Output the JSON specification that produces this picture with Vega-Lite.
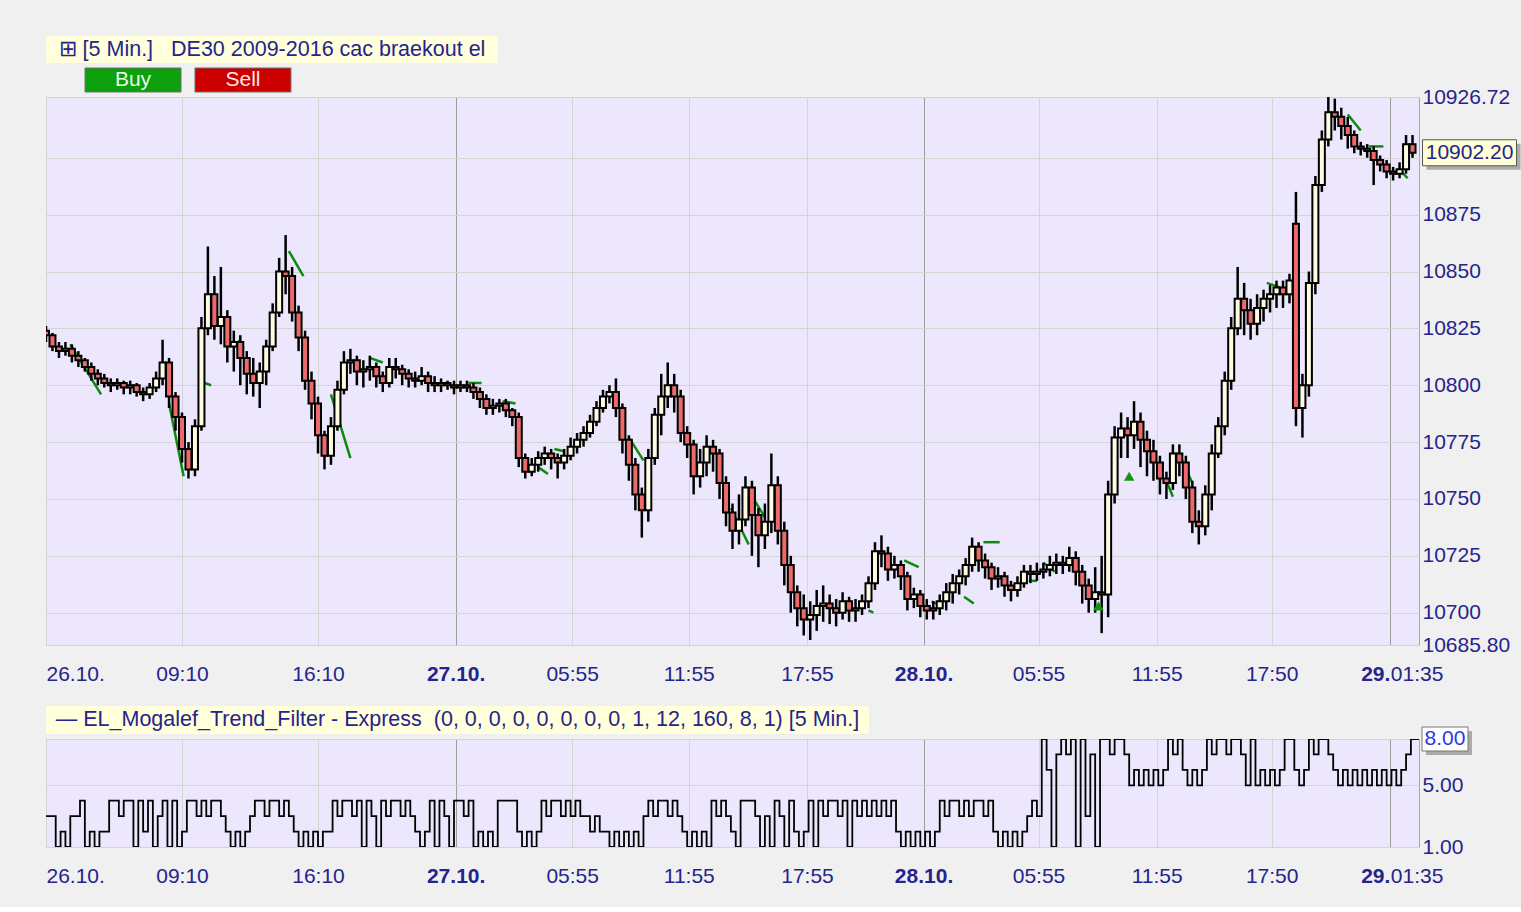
{
  "$schema": "https://vega.github.io/schema/vega-lite/v6.json",
  "background": "#f0f0f0",
  "padding": {"left": 45, "top": 36, "right": 0, "bottom": 20},
  "config": {"font": "Liberation Sans", "view": {"stroke": null}},
  "spacing": 21,
  "datasets": {
    "header1": [{"label": "⊞ [5 Min.]\u00a0\u00a0\u00a0DE30 2009-2016 cac braekout el"}],
    "header2": [{"label": "— EL_Mogalef_Trend_Filter - Express\u00a0\u00a0(0, 0, 0, 0, 0, 0, 0, 0, 1, 12, 160, 8, 1) [5 Min.]"}],
    "buttons": [{"b": "Buy"}, {"b": "Sell"}],
    "last": [{"t": 844, "p": 10902.2, "label": "10902.20"}],
    "lastInd": [{"t": 848, "v": 8, "label": "8.00"}],
    "signals": [{"t": 669, "p": 10760}, {"t": 650, "p": 10703}],
    "trail": [
      {"t":15,"t2":34,"p":10818,"p2":10796},{"t":76,"t2":85,"p":10792,"p2":10760},{"t":98,"t2":102,"p":10801,"p2":10800},
      {"t":150,"t2":159,"p":10859,"p2":10848},{"t":176,"t2":188,"p":10796,"p2":10768},{"t":119,"t2":122,"p":10820,"p2":10816},
      {"t":200,"t2":208,"p":10812,"p2":10810},{"t":261,"t2":269,"p":10801,"p2":10801},{"t":282,"t2":290,"p":10793,"p2":10792},
      {"t":304,"t2":310,"p":10764,"p2":10761},{"t":314,"t2":320,"p":10772,"p2":10771},{"t":360,"t2":369,"p":10777,"p2":10767},
      {"t":413,"t2":418,"p":10771,"p2":10766},{"t":423,"t2":434,"p":10746,"p2":10730},{"t":437,"t2":444,"p":10750,"p2":10742},
      {"t":508,"t2":511,"p":10701,"p2":10700},{"t":530,"t2":539,"p":10723,"p2":10720},{"t":547,"t2":553,"p":10705,"p2":10703},
      {"t":567,"t2":573,"p":10707,"p2":10704},{"t":579,"t2":589,"p":10731,"p2":10731},{"t":607,"t2":612,"p":10714,"p2":10714},
      {"t":616,"t2":623,"p":10722,"p2":10718},{"t":692,"t2":696,"p":10758,"p2":10751},{"t":701,"t2":708,"p":10768,"p2":10757},
      {"t":754,"t2":762,"p":10845,"p2":10843},{"t":804,"t2":812,"p":10919,"p2":10912},{"t":817,"t2":826,"p":10905,"p2":10905},
      {"t":837,"t2":841,"p":10894,"p2":10891}
    ],
    "candles": [
      {"t":0,"o":10824,"h":10826,"l":10819,"c":10822},{"t":4,"o":10822,"h":10823,"l":10815,"c":10817},{"t":8,"o":10817,"h":10819,"l":10812,"c":10815},
      {"t":12,"o":10815,"h":10819,"l":10813,"c":10816},{"t":16,"o":10816,"h":10818,"l":10810,"c":10813},{"t":20,"o":10813,"h":10815,"l":10808,"c":10811},
      {"t":24,"o":10811,"h":10812,"l":10806,"c":10808},{"t":28,"o":10808,"h":10810,"l":10802,"c":10805},{"t":32,"o":10805,"h":10807,"l":10800,"c":10803},
      {"t":36,"o":10803,"h":10805,"l":10799,"c":10801},{"t":40,"o":10801,"h":10803,"l":10797,"c":10800},{"t":44,"o":10800,"h":10803,"l":10798,"c":10801},
      {"t":48,"o":10801,"h":10802,"l":10796,"c":10799},{"t":52,"o":10799,"h":10802,"l":10796,"c":10800},{"t":56,"o":10800,"h":10801,"l":10795,"c":10797},
      {"t":60,"o":10797,"h":10799,"l":10793,"c":10796},{"t":64,"o":10796,"h":10801,"l":10794,"c":10799},{"t":68,"o":10799,"h":10806,"l":10797,"c":10803},
      {"t":72,"o":10803,"h":10820,"l":10800,"c":10810},{"t":76,"o":10810,"h":10812,"l":10790,"c":10795},{"t":80,"o":10795,"h":10797,"l":10780,"c":10786},
      {"t":84,"o":10786,"h":10788,"l":10766,"c":10772},{"t":88,"o":10772,"h":10775,"l":10759,"c":10763},{"t":92,"o":10763,"h":10785,"l":10760,"c":10782},
      {"t":96,"o":10782,"h":10830,"l":10780,"c":10825},{"t":100,"o":10825,"h":10861,"l":10822,"c":10840},{"t":104,"o":10840,"h":10848,"l":10820,"c":10826},
      {"t":108,"o":10826,"h":10852,"l":10818,"c":10830},{"t":112,"o":10830,"h":10833,"l":10810,"c":10817},{"t":116,"o":10817,"h":10824,"l":10806,"c":10819},
      {"t":120,"o":10819,"h":10822,"l":10800,"c":10812},{"t":124,"o":10812,"h":10815,"l":10796,"c":10805},{"t":128,"o":10805,"h":10812,"l":10795,"c":10801},
      {"t":132,"o":10801,"h":10810,"l":10790,"c":10806},{"t":136,"o":10806,"h":10820,"l":10800,"c":10817},{"t":140,"o":10817,"h":10836,"l":10815,"c":10832},
      {"t":144,"o":10832,"h":10856,"l":10830,"c":10850},{"t":148,"o":10850,"h":10866,"l":10840,"c":10848},{"t":152,"o":10848,"h":10852,"l":10828,"c":10832},
      {"t":156,"o":10832,"h":10835,"l":10815,"c":10821},{"t":160,"o":10821,"h":10824,"l":10798,"c":10802},{"t":164,"o":10802,"h":10806,"l":10785,"c":10792},
      {"t":168,"o":10792,"h":10795,"l":10770,"c":10778},{"t":172,"o":10778,"h":10780,"l":10763,"c":10769},{"t":176,"o":10769,"h":10786,"l":10765,"c":10782},
      {"t":180,"o":10782,"h":10802,"l":10780,"c":10798},{"t":184,"o":10798,"h":10815,"l":10796,"c":10810},{"t":188,"o":10810,"h":10816,"l":10805,"c":10811},
      {"t":192,"o":10811,"h":10813,"l":10800,"c":10806},{"t":196,"o":10806,"h":10811,"l":10799,"c":10807},{"t":200,"o":10807,"h":10813,"l":10802,"c":10808},
      {"t":204,"o":10808,"h":10810,"l":10799,"c":10804},{"t":208,"o":10804,"h":10806,"l":10797,"c":10801},{"t":212,"o":10801,"h":10812,"l":10799,"c":10808},
      {"t":216,"o":10808,"h":10812,"l":10803,"c":10807},{"t":220,"o":10807,"h":10809,"l":10800,"c":10805},{"t":224,"o":10805,"h":10807,"l":10799,"c":10803},
      {"t":228,"o":10803,"h":10806,"l":10799,"c":10802},{"t":232,"o":10802,"h":10808,"l":10800,"c":10804},{"t":236,"o":10804,"h":10806,"l":10797,"c":10801},
      {"t":240,"o":10801,"h":10804,"l":10797,"c":10800},{"t":244,"o":10800,"h":10803,"l":10797,"c":10801},{"t":248,"o":10801,"h":10802,"l":10798,"c":10800},
      {"t":252,"o":10800,"h":10802,"l":10796,"c":10799},{"t":256,"o":10799,"h":10802,"l":10797,"c":10800},{"t":260,"o":10800,"h":10802,"l":10797,"c":10799},
      {"t":264,"o":10799,"h":10801,"l":10794,"c":10797},{"t":268,"o":10797,"h":10799,"l":10790,"c":10794},{"t":272,"o":10794,"h":10796,"l":10787,"c":10790},
      {"t":276,"o":10790,"h":10794,"l":10787,"c":10791},{"t":280,"o":10791,"h":10794,"l":10788,"c":10792},{"t":284,"o":10792,"h":10794,"l":10786,"c":10789},
      {"t":288,"o":10789,"h":10790,"l":10782,"c":10786},{"t":292,"o":10786,"h":10788,"l":10764,"c":10768},{"t":296,"o":10768,"h":10770,"l":10759,"c":10762},
      {"t":300,"o":10762,"h":10768,"l":10760,"c":10765},{"t":304,"o":10765,"h":10771,"l":10762,"c":10768},{"t":308,"o":10768,"h":10773,"l":10765,"c":10770},
      {"t":312,"o":10770,"h":10772,"l":10763,"c":10768},{"t":316,"o":10768,"h":10770,"l":10759,"c":10766},{"t":320,"o":10766,"h":10772,"l":10763,"c":10769},
      {"t":324,"o":10769,"h":10777,"l":10767,"c":10773},{"t":328,"o":10773,"h":10779,"l":10770,"c":10776},{"t":332,"o":10776,"h":10782,"l":10773,"c":10779},
      {"t":336,"o":10779,"h":10787,"l":10777,"c":10784},{"t":340,"o":10784,"h":10793,"l":10782,"c":10790},{"t":344,"o":10790,"h":10798,"l":10788,"c":10795},
      {"t":348,"o":10795,"h":10800,"l":10792,"c":10797},{"t":352,"o":10797,"h":10803,"l":10786,"c":10790},{"t":356,"o":10790,"h":10792,"l":10770,"c":10776},
      {"t":360,"o":10776,"h":10778,"l":10758,"c":10765},{"t":364,"o":10765,"h":10768,"l":10745,"c":10752},{"t":368,"o":10752,"h":10755,"l":10733,"c":10745},
      {"t":372,"o":10745,"h":10772,"l":10740,"c":10768},{"t":376,"o":10768,"h":10790,"l":10765,"c":10787},{"t":380,"o":10787,"h":10805,"l":10778,"c":10795},
      {"t":384,"o":10795,"h":10810,"l":10790,"c":10800},{"t":388,"o":10800,"h":10805,"l":10788,"c":10795},{"t":392,"o":10795,"h":10798,"l":10775,"c":10779},
      {"t":396,"o":10779,"h":10782,"l":10768,"c":10774},{"t":400,"o":10774,"h":10776,"l":10752,"c":10760},{"t":404,"o":10760,"h":10772,"l":10755,"c":10766},
      {"t":408,"o":10766,"h":10778,"l":10760,"c":10773},{"t":412,"o":10773,"h":10776,"l":10762,"c":10770},{"t":416,"o":10770,"h":10772,"l":10750,"c":10757},
      {"t":420,"o":10757,"h":10760,"l":10738,"c":10744},{"t":424,"o":10744,"h":10748,"l":10728,"c":10736},{"t":428,"o":10736,"h":10752,"l":10730,"c":10741},
      {"t":432,"o":10741,"h":10760,"l":10738,"c":10755},{"t":436,"o":10755,"h":10758,"l":10725,"c":10743},{"t":440,"o":10743,"h":10746,"l":10720,"c":10734},
      {"t":444,"o":10734,"h":10748,"l":10728,"c":10740},{"t":448,"o":10740,"h":10770,"l":10735,"c":10756},{"t":452,"o":10756,"h":10760,"l":10730,"c":10736},
      {"t":456,"o":10736,"h":10740,"l":10712,"c":10721},{"t":460,"o":10721,"h":10725,"l":10700,"c":10709},{"t":464,"o":10709,"h":10712,"l":10694,"c":10702},
      {"t":468,"o":10702,"h":10708,"l":10690,"c":10697},{"t":472,"o":10697,"h":10705,"l":10688,"c":10699},{"t":476,"o":10699,"h":10710,"l":10692,"c":10703},
      {"t":480,"o":10703,"h":10712,"l":10696,"c":10704},{"t":484,"o":10704,"h":10708,"l":10695,"c":10702},{"t":488,"o":10702,"h":10706,"l":10694,"c":10700},
      {"t":492,"o":10700,"h":10709,"l":10697,"c":10705},{"t":496,"o":10705,"h":10707,"l":10696,"c":10701},{"t":500,"o":10701,"h":10706,"l":10696,"c":10702},
      {"t":504,"o":10702,"h":10708,"l":10699,"c":10705},{"t":508,"o":10705,"h":10716,"l":10702,"c":10713},{"t":512,"o":10713,"h":10731,"l":10710,"c":10727},
      {"t":516,"o":10727,"h":10734,"l":10720,"c":10726},{"t":520,"o":10726,"h":10729,"l":10714,"c":10719},{"t":524,"o":10719,"h":10725,"l":10715,"c":10721},
      {"t":528,"o":10721,"h":10723,"l":10710,"c":10716},{"t":532,"o":10716,"h":10718,"l":10701,"c":10706},{"t":536,"o":10706,"h":10711,"l":10702,"c":10708},
      {"t":540,"o":10708,"h":10710,"l":10698,"c":10703},{"t":544,"o":10703,"h":10706,"l":10697,"c":10701},{"t":548,"o":10701,"h":10705,"l":10697,"c":10702},
      {"t":552,"o":10702,"h":10708,"l":10699,"c":10705},{"t":556,"o":10705,"h":10713,"l":10701,"c":10709},{"t":560,"o":10709,"h":10717,"l":10704,"c":10713},
      {"t":564,"o":10713,"h":10719,"l":10708,"c":10716},{"t":568,"o":10716,"h":10724,"l":10712,"c":10721},{"t":572,"o":10721,"h":10733,"l":10718,"c":10729},
      {"t":576,"o":10729,"h":10731,"l":10718,"c":10723},{"t":580,"o":10723,"h":10726,"l":10715,"c":10720},{"t":584,"o":10720,"h":10722,"l":10710,"c":10715},
      {"t":588,"o":10715,"h":10720,"l":10711,"c":10716},{"t":592,"o":10716,"h":10718,"l":10707,"c":10712},{"t":596,"o":10712,"h":10714,"l":10705,"c":10710},
      {"t":600,"o":10710,"h":10716,"l":10707,"c":10713},{"t":604,"o":10713,"h":10721,"l":10711,"c":10718},{"t":608,"o":10718,"h":10721,"l":10713,"c":10717},
      {"t":612,"o":10717,"h":10722,"l":10714,"c":10718},{"t":616,"o":10718,"h":10722,"l":10715,"c":10719},{"t":620,"o":10719,"h":10725,"l":10716,"c":10721},
      {"t":624,"o":10721,"h":10726,"l":10717,"c":10722},{"t":628,"o":10722,"h":10725,"l":10717,"c":10721},{"t":632,"o":10721,"h":10729,"l":10718,"c":10724},
      {"t":636,"o":10724,"h":10727,"l":10712,"c":10718},{"t":640,"o":10718,"h":10721,"l":10704,"c":10712},{"t":644,"o":10712,"h":10715,"l":10700,"c":10706},
      {"t":648,"o":10706,"h":10720,"l":10700,"c":10709},{"t":652,"o":10709,"h":10725,"l":10691,"c":10708},{"t":656,"o":10708,"h":10758,"l":10698,"c":10752},
      {"t":660,"o":10752,"h":10782,"l":10748,"c":10777},{"t":664,"o":10777,"h":10788,"l":10768,"c":10781},{"t":668,"o":10781,"h":10786,"l":10768,"c":10778},
      {"t":672,"o":10778,"h":10793,"l":10772,"c":10784},{"t":676,"o":10784,"h":10788,"l":10764,"c":10776},{"t":680,"o":10776,"h":10780,"l":10760,"c":10771},
      {"t":684,"o":10771,"h":10776,"l":10758,"c":10766},{"t":688,"o":10766,"h":10769,"l":10752,"c":10759},{"t":692,"o":10759,"h":10762,"l":10750,"c":10757},
      {"t":696,"o":10757,"h":10774,"l":10754,"c":10770},{"t":700,"o":10770,"h":10774,"l":10760,"c":10766},{"t":704,"o":10766,"h":10769,"l":10750,"c":10755},
      {"t":708,"o":10755,"h":10758,"l":10735,"c":10740},{"t":712,"o":10740,"h":10745,"l":10730,"c":10738},{"t":716,"o":10738,"h":10756,"l":10734,"c":10752},
      {"t":720,"o":10752,"h":10774,"l":10745,"c":10770},{"t":724,"o":10770,"h":10786,"l":10768,"c":10782},{"t":728,"o":10782,"h":10806,"l":10778,"c":10802},
      {"t":732,"o":10802,"h":10830,"l":10798,"c":10825},{"t":736,"o":10825,"h":10852,"l":10822,"c":10838},{"t":740,"o":10838,"h":10845,"l":10822,"c":10833},
      {"t":744,"o":10833,"h":10838,"l":10820,"c":10827},{"t":748,"o":10827,"h":10840,"l":10822,"c":10834},{"t":752,"o":10834,"h":10842,"l":10828,"c":10838},
      {"t":756,"o":10838,"h":10844,"l":10832,"c":10840},{"t":760,"o":10840,"h":10846,"l":10834,"c":10843},{"t":764,"o":10843,"h":10846,"l":10834,"c":10840},
      {"t":768,"o":10840,"h":10849,"l":10836,"c":10846},{"t":772,"o":10871,"h":10885,"l":10782,"c":10790},{"t":776,"o":10790,"h":10805,"l":10777,"c":10800},
      {"t":780,"o":10800,"h":10850,"l":10795,"c":10845},{"t":784,"o":10845,"h":10892,"l":10840,"c":10888},{"t":788,"o":10888,"h":10912,"l":10885,"c":10908},
      {"t":792,"o":10908,"h":10926.7,"l":10905,"c":10920},{"t":796,"o":10920,"h":10926,"l":10912,"c":10918},{"t":800,"o":10918,"h":10922,"l":10908,"c":10914},
      {"t":804,"o":10914,"h":10918,"l":10904,"c":10910},{"t":808,"o":10910,"h":10912,"l":10902,"c":10905},{"t":812,"o":10905,"h":10907,"l":10901,"c":10904},
      {"t":816,"o":10904,"h":10906,"l":10900,"c":10903},{"t":820,"o":10903,"h":10905,"l":10888,"c":10899},{"t":824,"o":10899,"h":10901,"l":10894,"c":10897},
      {"t":828,"o":10897,"h":10899,"l":10891,"c":10894},{"t":832,"o":10894,"h":10896,"l":10890,"c":10893},{"t":836,"o":10893,"h":10898,"l":10891,"c":10895},
      {"t":840,"o":10895,"h":10910,"l":10893,"c":10906},{"t":844,"o":10906,"h":10910,"l":10900,"c":10902.2}
    ],
    "filter": [
      {"t":0,"v":3},{"t":3,"v":3},{"t":6,"v":1},{"t":9,"v":2},{"t":12,"v":1},{"t":15,"v":3},{"t":18,"v":3},{"t":21,"v":4},{"t":24,"v":1},{"t":27,"v":2},
      {"t":30,"v":1},{"t":33,"v":2},{"t":36,"v":2},{"t":39,"v":4},{"t":42,"v":4},{"t":45,"v":3},{"t":48,"v":4},{"t":51,"v":4},{"t":54,"v":1},{"t":57,"v":4},
      {"t":60,"v":2},{"t":63,"v":4},{"t":66,"v":1},{"t":69,"v":3},{"t":72,"v":4},{"t":75,"v":1},{"t":78,"v":4},{"t":81,"v":1},{"t":84,"v":2},{"t":87,"v":4},
      {"t":90,"v":4},{"t":93,"v":3},{"t":96,"v":4},{"t":99,"v":3},{"t":102,"v":4},{"t":105,"v":4},{"t":108,"v":3},{"t":111,"v":2},{"t":114,"v":1},{"t":117,"v":2},
      {"t":120,"v":1},{"t":123,"v":2},{"t":126,"v":3},{"t":129,"v":4},{"t":132,"v":4},{"t":135,"v":3},{"t":138,"v":4},{"t":141,"v":4},{"t":144,"v":3},{"t":147,"v":4},
      {"t":150,"v":3},{"t":153,"v":2},{"t":156,"v":1},{"t":159,"v":2},{"t":162,"v":1},{"t":165,"v":2},{"t":168,"v":1},{"t":171,"v":2},{"t":174,"v":2},{"t":177,"v":4},
      {"t":180,"v":3},{"t":183,"v":4},{"t":186,"v":4},{"t":189,"v":3},{"t":192,"v":4},{"t":195,"v":1},{"t":198,"v":4},{"t":201,"v":3},{"t":204,"v":1},{"t":207,"v":4},
      {"t":210,"v":3},{"t":213,"v":4},{"t":216,"v":4},{"t":219,"v":3},{"t":222,"v":4},{"t":225,"v":3},{"t":228,"v":2},{"t":231,"v":1},{"t":234,"v":2},{"t":237,"v":4},
      {"t":240,"v":1},{"t":243,"v":4},{"t":246,"v":3},{"t":249,"v":1},{"t":252,"v":4},{"t":255,"v":4},{"t":258,"v":3},{"t":261,"v":4},{"t":264,"v":1},{"t":267,"v":2},
      {"t":270,"v":1},{"t":273,"v":2},{"t":276,"v":1},{"t":279,"v":4},{"t":282,"v":4},{"t":285,"v":4},{"t":288,"v":4},{"t":291,"v":2},{"t":294,"v":1},{"t":297,"v":2},
      {"t":300,"v":1},{"t":303,"v":2},{"t":306,"v":4},{"t":309,"v":3},{"t":312,"v":4},{"t":315,"v":4},{"t":318,"v":3},{"t":321,"v":4},{"t":324,"v":3},{"t":327,"v":4},
      {"t":330,"v":3},{"t":333,"v":3},{"t":336,"v":2},{"t":339,"v":3},{"t":342,"v":2},{"t":345,"v":2},{"t":348,"v":1},{"t":351,"v":2},{"t":354,"v":1},{"t":357,"v":2},
      {"t":360,"v":1},{"t":363,"v":2},{"t":366,"v":1},{"t":369,"v":3},{"t":372,"v":4},{"t":375,"v":3},{"t":378,"v":4},{"t":381,"v":4},{"t":384,"v":3},{"t":387,"v":4},
      {"t":390,"v":3},{"t":393,"v":2},{"t":396,"v":1},{"t":399,"v":2},{"t":402,"v":1},{"t":405,"v":2},{"t":408,"v":1},{"t":411,"v":4},{"t":414,"v":3},{"t":417,"v":4},
      {"t":420,"v":3},{"t":423,"v":2},{"t":426,"v":1},{"t":429,"v":4},{"t":432,"v":4},{"t":435,"v":4},{"t":438,"v":3},{"t":441,"v":1},{"t":444,"v":3},{"t":447,"v":1},
      {"t":450,"v":4},{"t":453,"v":3},{"t":456,"v":1},{"t":459,"v":4},{"t":462,"v":2},{"t":465,"v":1},{"t":468,"v":2},{"t":471,"v":4},{"t":474,"v":1},{"t":477,"v":4},
      {"t":480,"v":3},{"t":483,"v":4},{"t":486,"v":4},{"t":489,"v":3},{"t":492,"v":4},{"t":495,"v":1},{"t":498,"v":4},{"t":501,"v":3},{"t":504,"v":4},{"t":507,"v":3},
      {"t":510,"v":4},{"t":513,"v":3},{"t":516,"v":4},{"t":519,"v":3},{"t":522,"v":4},{"t":525,"v":2},{"t":528,"v":1},{"t":531,"v":2},{"t":534,"v":1},{"t":537,"v":2},
      {"t":540,"v":1},{"t":543,"v":2},{"t":546,"v":1},{"t":549,"v":2},{"t":552,"v":4},{"t":555,"v":3},{"t":558,"v":4},{"t":561,"v":4},{"t":564,"v":3},{"t":567,"v":4},
      {"t":570,"v":3},{"t":573,"v":4},{"t":576,"v":4},{"t":579,"v":3},{"t":582,"v":4},{"t":585,"v":2},{"t":588,"v":1},{"t":591,"v":2},{"t":594,"v":1},{"t":597,"v":2},
      {"t":600,"v":1},{"t":603,"v":2},{"t":606,"v":3},{"t":609,"v":4},{"t":612,"v":3},{"t":615,"v":8},{"t":618,"v":6},{"t":621,"v":1},{"t":624,"v":7},{"t":627,"v":8},
      {"t":630,"v":7},{"t":633,"v":8},{"t":636,"v":1},{"t":639,"v":8},{"t":642,"v":3},{"t":645,"v":7},{"t":648,"v":1},{"t":651,"v":8},{"t":654,"v":8},{"t":657,"v":7},
      {"t":660,"v":8},{"t":663,"v":8},{"t":666,"v":7},{"t":669,"v":5},{"t":672,"v":6},{"t":675,"v":5},{"t":678,"v":6},{"t":681,"v":5},{"t":684,"v":6},{"t":687,"v":5},
      {"t":690,"v":6},{"t":693,"v":8},{"t":696,"v":7},{"t":699,"v":8},{"t":702,"v":6},{"t":705,"v":5},{"t":708,"v":6},{"t":711,"v":5},{"t":714,"v":6},{"t":717,"v":8},
      {"t":720,"v":7},{"t":723,"v":8},{"t":726,"v":8},{"t":729,"v":7},{"t":732,"v":8},{"t":735,"v":8},{"t":738,"v":7},{"t":741,"v":5},{"t":744,"v":8},{"t":747,"v":5},
      {"t":750,"v":6},{"t":753,"v":5},{"t":756,"v":6},{"t":759,"v":5},{"t":762,"v":6},{"t":765,"v":8},{"t":768,"v":8},{"t":771,"v":6},{"t":774,"v":5},{"t":777,"v":6},
      {"t":780,"v":8},{"t":783,"v":7},{"t":786,"v":8},{"t":789,"v":8},{"t":792,"v":7},{"t":795,"v":6},{"t":798,"v":5},{"t":801,"v":6},{"t":804,"v":5},{"t":807,"v":6},
      {"t":810,"v":5},{"t":813,"v":6},{"t":816,"v":5},{"t":819,"v":6},{"t":822,"v":5},{"t":825,"v":6},{"t":828,"v":5},{"t":831,"v":6},{"t":834,"v":5},{"t":837,"v":6},
      {"t":840,"v":7},{"t":843,"v":8},{"t":846,"v":8},{"t":848,"v":8}
    ]
  },
  "vconcat": [
    {
      "bounds": "flush",
      "spacing": 5,
      "vconcat": [
        {
          "width": 452, "height": 27,
          "view": {"fill": "#ffffdc", "stroke": null},
          "data": {"name": "header1"},
          "mark": {"type": "text", "fontSize": 21.5, "color": "#24248c", "font": "Liberation Sans"},
          "encoding": {"text": {"field": "label"}}
        },
        {
          "width": 284, "height": 24,
          "view": {"stroke": null},
          "data": {"name": "buttons"},
          "encoding": {
            "x": {"field": "b", "type": "nominal", "scale": {"paddingInner": 0.127, "paddingOuter": 0.355}, "axis": null},
            "y": {"datum": 1, "type": "quantitative", "scale": {"domain": [0, 1], "nice": false}, "axis": null}
          },
          "layer": [
            {
              "mark": {"type": "bar", "stroke": "#707070", "strokeWidth": 1},
              "encoding": {"fill": {"condition": {"test": "datum.b == 'Buy'", "value": "#0ca00c"}, "value": "#cc0000"}}
            },
            {
              "mark": {"type": "text", "fontSize": 21, "baseline": "middle", "font": "Liberation Sans"},
              "encoding": {
                "y": {"datum": 0.5, "type": "quantitative"},
                "text": {"field": "b"},
                "fill": {"condition": {"test": "datum.b == 'Buy'", "value": "#e6ffe6"}, "value": "#ffe6e6"}
              }
            }
          ]
        },
        {
          "width": 1373, "height": 548,
          "view": {"fill": "#ece7fc", "stroke": "#a8a8a8"},
          "encoding": {
            "x": {
              "field": "t", "type": "quantitative",
              "scale": {"domain": [0, 848], "nice": false, "zero": false, "padding": 0},
              "axis": {
                "orient": "bottom", "title": null,
                "values": [0, 84, 168, 253, 325, 397, 470, 542, 613, 686, 757, 830, 830.3],
                "labelExpr": "datum.value==0?'26.10.':datum.value==84?'09:10':datum.value==168?'16:10':datum.value==253?'27.10.':datum.value==325?'05:55':datum.value==397?'11:55':datum.value==470?'17:55':datum.value==542?'28.10.':datum.value==613?'05:55':datum.value==686?'11:55':datum.value==757?'17:50':datum.value==830?'29.':'01:35'",
                "labelFontWeight": {"condition": {"test": "datum.value==253||datum.value==542||datum.value==830", "value": "bold"}, "value": "normal"},
                "labelAlign": {"condition": [{"test": "datum.value==0||datum.value==830.3", "value": "left"}, {"test": "datum.value==830", "value": "right"}], "value": "center"},
                "gridColor": {"condition": {"test": "datum.value==253||datum.value==542||datum.value>=830", "value": "#9c9c9c"}, "value": "#d4d4d4"},
                "grid": true, "domain": false, "ticks": false, "labelFlush": false, "labelOverlap": false,
                "labelPadding": 18, "labelFontSize": 21, "labelColor": "#24248c", "labelFont": "Liberation Sans"
              }
            }
          },
          "layer": [
            {
              "data": {"name": "trail"},
              "mark": {"type": "rule", "color": "#0b8a0b", "strokeWidth": 2.5},
              "encoding": {
                "x2": {"field": "t2"},
                "y": {
                  "field": "p", "type": "quantitative",
                  "scale": {"domain": [10685.8, 10926.72], "nice": false, "zero": false},
                  "axis": {
                    "orient": "right", "title": null,
                    "values": [10685.8, 10700, 10725, 10750, 10775, 10800, 10825, 10850, 10875, 10900, 10926.72],
                    "labelExpr": "datum.value==10900?'':(datum.value%25==0?format(datum.value,'d'):format(datum.value,'.2f'))",
                    "grid": true, "gridColor": "#d4d4d4", "domain": false, "ticks": false, "labelOverlap": false,
                    "labelPadding": 3, "labelFontSize": 21, "labelColor": "#24248c", "labelFont": "Liberation Sans"
                  }
                },
                "y2": {"field": "p2"}
              }
            },
            {
              "data": {"name": "candles"},
              "mark": {"type": "rule", "color": "#000000", "strokeWidth": 2.5, "clip": true},
              "encoding": {
                "y": {"field": "l", "type": "quantitative", "scale": {"domain": [10685.8, 10926.72], "nice": false, "zero": false}, "axis": {"title": null}},
                "y2": {"field": "h"}
              }
            },
            {
              "data": {"name": "candles"},
              "mark": {"type": "bar", "width": 6, "stroke": "#000000", "strokeWidth": 2, "clip": true},
              "encoding": {
                "y": {"field": "o", "type": "quantitative", "scale": {"domain": [10685.8, 10926.72], "nice": false, "zero": false}, "axis": {"title": null}},
                "y2": {"field": "c"},
                "fill": {"condition": {"test": "datum.c >= datum.o", "value": "#fffbe0"}, "value": "#ee6a6a"}
              }
            },
            {
              "data": {"name": "signals"},
              "mark": {"type": "point", "shape": "triangle-up", "filled": true, "color": "#139413", "size": 110, "opacity": 1},
              "encoding": {
                "y": {"field": "p", "type": "quantitative", "scale": {"domain": [10685.8, 10926.72], "nice": false, "zero": false}, "axis": {"title": null}}
              }
            },
            {
              "data": {"name": "last"},
              "mark": {"type": "tick", "orient": "horizontal", "size": 94, "thickness": 26, "color": "#9a9a9a", "opacity": 0.8, "xOffset": 61, "yOffset": 4},
              "encoding": {
                "y": {"field": "p", "type": "quantitative", "scale": {"domain": [10685.8, 10926.72], "nice": false, "zero": false}, "axis": {"title": null}}
              }
            },
            {
              "data": {"name": "last"},
              "mark": {"type": "tick", "orient": "horizontal", "size": 94, "thickness": 26, "color": "#ffffd6", "stroke": "#555555", "strokeWidth": 1, "opacity": 1, "xOffset": 57},
              "encoding": {
                "y": {"field": "p", "type": "quantitative", "scale": {"domain": [10685.8, 10926.72], "nice": false, "zero": false}, "axis": {"title": null}}
              }
            },
            {
              "data": {"name": "last"},
              "mark": {"type": "text", "fontSize": 21, "color": "#24248c", "align": "center", "baseline": "middle", "font": "Liberation Sans", "xOffset": 57},
              "encoding": {
                "y": {"field": "p", "type": "quantitative", "scale": {"domain": [10685.8, 10926.72], "nice": false, "zero": false}, "axis": {"title": null}},
                "text": {"field": "label"}
              }
            }
          ]
        }
      ]
    },
    {
      "bounds": "flush",
      "spacing": 5,
      "vconcat": [
        {
          "width": 823, "height": 28,
          "view": {"fill": "#ffffdc", "stroke": null},
          "data": {"name": "header2"},
          "mark": {"type": "text", "fontSize": 21.5, "color": "#24248c", "font": "Liberation Sans"},
          "encoding": {"text": {"field": "label"}}
        },
        {
          "width": 1373, "height": 108,
          "view": {"fill": "#ece7fc", "stroke": "#a8a8a8"},
          "encoding": {
            "x": {
              "field": "t", "type": "quantitative",
              "scale": {"domain": [0, 848], "nice": false, "zero": false, "padding": 0},
              "axis": {
                "orient": "bottom", "title": null,
                "values": [0, 84, 168, 253, 325, 397, 470, 542, 613, 686, 757, 830, 830.3],
                "labelExpr": "datum.value==0?'26.10.':datum.value==84?'09:10':datum.value==168?'16:10':datum.value==253?'27.10.':datum.value==325?'05:55':datum.value==397?'11:55':datum.value==470?'17:55':datum.value==542?'28.10.':datum.value==613?'05:55':datum.value==686?'11:55':datum.value==757?'17:50':datum.value==830?'29.':'01:35'",
                "labelFontWeight": {"condition": {"test": "datum.value==253||datum.value==542||datum.value==830", "value": "bold"}, "value": "normal"},
                "labelAlign": {"condition": [{"test": "datum.value==0||datum.value==830.3", "value": "left"}, {"test": "datum.value==830", "value": "right"}], "value": "center"},
                "gridColor": {"condition": {"test": "datum.value==253||datum.value==542||datum.value>=830", "value": "#9c9c9c"}, "value": "#d4d4d4"},
                "grid": true, "domain": false, "ticks": false, "labelFlush": false, "labelOverlap": false,
                "labelPadding": 18, "labelFontSize": 21, "labelColor": "#24248c", "labelFont": "Liberation Sans"
              }
            }
          },
          "layer": [
            {
              "data": {"name": "filter"},
              "mark": {"type": "line", "interpolate": "step-after", "color": "#000000", "strokeWidth": 1.8, "clip": true},
              "encoding": {
                "y": {
                  "field": "v", "type": "quantitative",
                  "scale": {"domain": [1, 8], "nice": false, "zero": false},
                  "axis": {
                    "orient": "right", "title": null, "values": [1, 5, 8],
                    "labelExpr": "datum.value==8?'':format(datum.value,'.2f')",
                    "grid": true, "gridColor": "#d4d4d4", "domain": false, "ticks": false, "labelOverlap": false,
                    "labelPadding": 3, "labelFontSize": 21, "labelColor": "#24248c", "labelFont": "Liberation Sans"
                  }
                }
              }
            },
            {
              "data": {"name": "lastInd"},
              "mark": {"type": "tick", "orient": "horizontal", "size": 46, "thickness": 24, "color": "#9a9a9a", "opacity": 0.8, "xOffset": 30, "yOffset": 4},
              "encoding": {
                "y": {"field": "v", "type": "quantitative", "scale": {"domain": [1, 8], "nice": false, "zero": false}, "axis": {"title": null}}
              }
            },
            {
              "data": {"name": "lastInd"},
              "mark": {"type": "tick", "orient": "horizontal", "size": 46, "thickness": 24, "color": "#ffffff", "stroke": "#777777", "strokeWidth": 1, "opacity": 1, "xOffset": 26},
              "encoding": {
                "y": {"field": "v", "type": "quantitative", "scale": {"domain": [1, 8], "nice": false, "zero": false}, "axis": {"title": null}}
              }
            },
            {
              "data": {"name": "lastInd"},
              "mark": {"type": "text", "fontSize": 21, "color": "#2a3ae8", "align": "center", "baseline": "middle", "font": "Liberation Sans", "xOffset": 26},
              "encoding": {
                "y": {"field": "v", "type": "quantitative", "scale": {"domain": [1, 8], "nice": false, "zero": false}, "axis": {"title": null}},
                "text": {"field": "label"}
              }
            }
          ]
        }
      ]
    }
  ]
}
